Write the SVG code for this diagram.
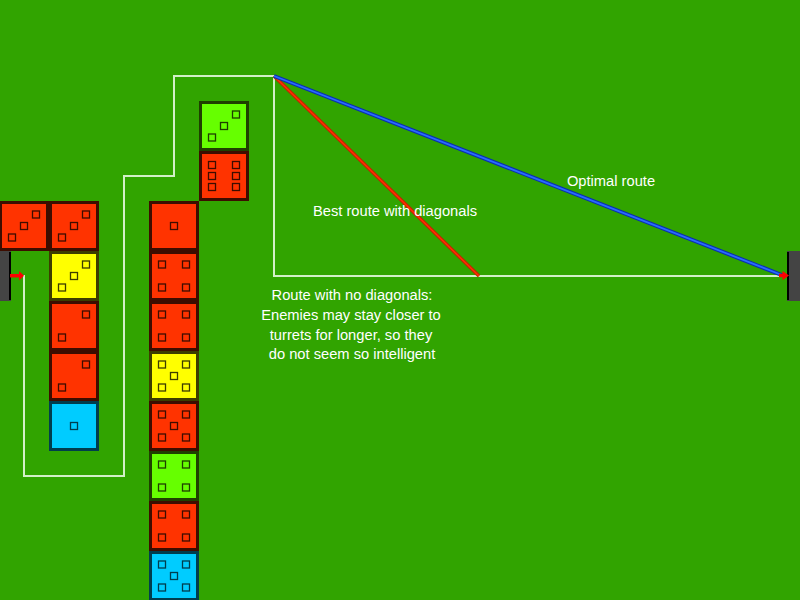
<svg xmlns="http://www.w3.org/2000/svg" xmlns:xlink="http://www.w3.org/1999/xlink" width="800" height="600" viewBox="0 0 800 600">
<style>
.blk{stroke-width:3}
.red{fill:#ff3300;stroke:#3d0d00;color:#3d0d00}
.yel{fill:#ffff00;stroke:#3d3d00;color:#3d3d00}
.grn{fill:#66ff00;stroke:#1f4000;color:#1f4000}
.cyn{fill:#00ccff;stroke:#003d4d;color:#003d4d}
.dot{fill:none;stroke:currentColor;stroke-width:1.3}
.lbl{font-family:"Liberation Sans",Arial,sans-serif;font-size:14.7px;fill:#ffffff;text-anchor:middle}
</style>
<defs>
<rect id="b" class="blk" x="-23.5" y="-23.5" width="47" height="47"/>
<rect id="q" class="dot" x="-3.5" y="-3.5" width="7" height="7"/>
<g id="d1"><use xlink:href="#q"/></g>
<g id="d2"><use xlink:href="#q" x="12" y="-11.5"/><use xlink:href="#q" x="-12" y="11.5"/></g>
<g id="d3"><use xlink:href="#q" x="12" y="-11.5"/><use xlink:href="#q"/><use xlink:href="#q" x="-12" y="11.5"/></g>
<g id="d4"><use xlink:href="#q" x="-12" y="-11.5"/><use xlink:href="#q" x="12" y="-11.5"/><use xlink:href="#q" x="-12" y="11.5"/><use xlink:href="#q" x="12" y="11.5"/></g>
<g id="d5"><use xlink:href="#d4"/><use xlink:href="#q"/></g>
<g id="d6"><use xlink:href="#q" x="-12" y="-11"/><use xlink:href="#q" x="12" y="-11"/><use xlink:href="#q" x="-12"/><use xlink:href="#q" x="12"/><use xlink:href="#q" x="-12" y="11"/><use xlink:href="#q" x="12" y="11"/></g>
</defs>
<rect x="0" y="0" width="800" height="600" fill="#31a400"/>

<g id="post-left">
<rect x="0" y="251" width="11" height="50" fill="#444444"/>
<line x1="10" y1="252" x2="10" y2="300" stroke="#000000" stroke-width="2"/>
</g>
<g id="post-right">
<rect x="787" y="251" width="13" height="50" fill="#444444"/>
<line x1="788" y1="252" x2="788" y2="300" stroke="#000000" stroke-width="2"/>
</g>

<g id="blocks">
<g id="b1" class="red" transform="translate(24,226)"><use xlink:href="#b"/><use xlink:href="#d3"/></g>
<g id="b2" class="red" transform="translate(74,226)"><use xlink:href="#b"/><use xlink:href="#d3"/></g>
<g id="b3" class="yel" transform="translate(74,276)"><use xlink:href="#b"/><use xlink:href="#d3"/></g>
<g id="b4" class="red" transform="translate(74,326)"><use xlink:href="#b"/><use xlink:href="#d2"/></g>
<g id="b5" class="red" transform="translate(74,376)"><use xlink:href="#b"/><use xlink:href="#d2"/></g>
<g id="b6" class="cyn" transform="translate(74,426)"><use xlink:href="#b"/><use xlink:href="#d1"/></g>
<g id="b7" class="red" transform="translate(174,226)"><use xlink:href="#b"/><use xlink:href="#d1"/></g>
<g id="b8" class="red" transform="translate(174,276)"><use xlink:href="#b"/><use xlink:href="#d4"/></g>
<g id="b9" class="red" transform="translate(174,326)"><use xlink:href="#b"/><use xlink:href="#d4"/></g>
<g id="b10" class="yel" transform="translate(174,376)"><use xlink:href="#b"/><use xlink:href="#d5"/></g>
<g id="b11" class="red" transform="translate(174,426)"><use xlink:href="#b"/><use xlink:href="#d5"/></g>
<g id="b12" class="grn" transform="translate(174,476)"><use xlink:href="#b"/><use xlink:href="#d4"/></g>
<g id="b13" class="red" transform="translate(174,526)"><use xlink:href="#b"/><use xlink:href="#d4"/></g>
<g id="b14" class="cyn" transform="translate(174,576)"><use xlink:href="#b"/><use xlink:href="#d5"/></g>
<g id="b15" class="grn" transform="translate(224,126)"><use xlink:href="#b"/><use xlink:href="#d3"/></g>
<g id="b16" class="red" transform="translate(224,176)"><use xlink:href="#b"/><use xlink:href="#d6"/></g>
</g>

<g id="connectors" fill="none">
<path d="M24,275 V476 H124 V176 H174 V76 H274 V276 H785" stroke="#d2f0c8" stroke-width="2"/>
<line x1="274" y1="76" x2="479" y2="276" stroke="#c42000" stroke-width="3.5"/>
<line x1="274" y1="76" x2="479" y2="276" stroke="#ff3300" stroke-width="1.5"/>
<line x1="274" y1="76" x2="783" y2="275.5" stroke="#0a2fb0" stroke-width="4"/>
<line x1="274" y1="76" x2="783" y2="275.5" stroke="#2a6bff" stroke-width="1.8"/>
<line x1="10" y1="275.7" x2="20" y2="275.7" stroke="#ff0000" stroke-width="3.5"/>
<polygon points="19,271 24,275.7 19,280.4" fill="#ff0000"/>
<line x1="779" y1="275.5" x2="784" y2="275.5" stroke="#ff0000" stroke-width="3.5"/>
<polygon points="782.5,271 789,275.5 782.5,280.3" fill="#ff0000"/>
</g>

<g id="labels">
<text class="lbl" x="611" y="186">Optimal route</text>
<text class="lbl" x="395" y="216">Best route with diagonals</text>
<text class="lbl" x="352" y="300">Route with no diagonals:</text>
<text class="lbl" x="351" y="320">Enemies may stay closer to</text>
<text class="lbl" x="351" y="340">turrets for longer, so they</text>
<text class="lbl" x="352" y="359">do not seem so intelligent</text>
</g>
</svg>
